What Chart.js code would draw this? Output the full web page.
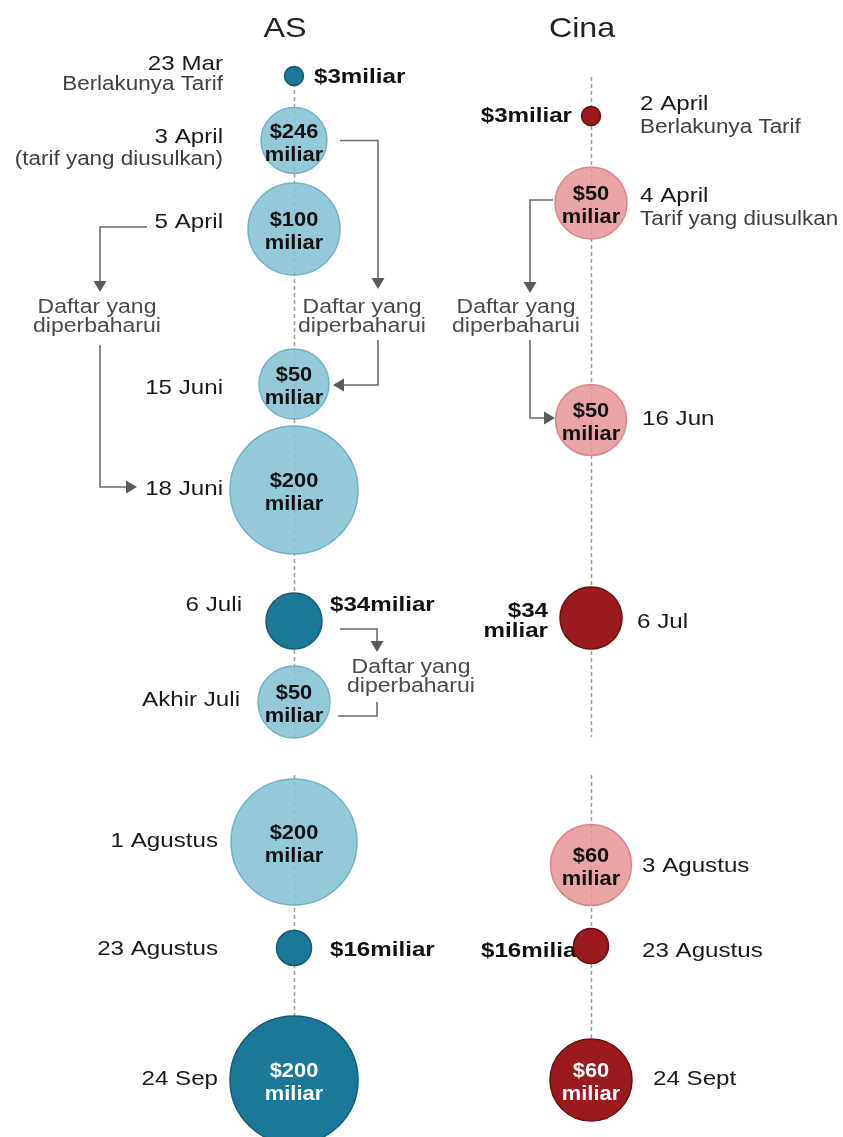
<!DOCTYPE html>
<html>
<head>
<meta charset="utf-8">
<script src="https://cdn.jsdelivr.net/npm/chart.js@4/dist/chart.umd.min.js"></script>
<style>
  html, body { margin: 0; padding: 0; background: #fff; }
  canvas { display: block; }
</style>
</head>
<body>
<canvas id="chart" width="843" height="1137"></canvas>
<script>
// columns
const countries = ["AS", "Cina"];

// AS timeline
const asDates = ["23 Mar", "3 April", "5 April", "15 Juni", "18 Juni", "6 Juli", "Akhir Juli", "1 Agustus", "23 Agustus", "24 Sep"];
const asNotes = ["Berlakunya Tarif", "(tarif yang diusulkan)", "", "", "", "", "", "", "", ""];
const asValues = [3, 246, 100, 50, 200, 34, 50, 200, 16, 200];
const asStatus = ["berlaku", "usulan", "usulan", "usulan", "usulan", "berlaku", "usulan", "usulan", "berlaku", "berlaku"];
const asTimeline = [7.6, 14.05, 22.9, 38.4, 49.0, 62.1, 70.2, 84.2, 94.8, 108.0];
const asRadius = [9.5, 33, 46, 35, 64, 28, 36, 63, 17.5, 64];

// Cina timeline
const cnDates = ["2 April", "4 April", "16 Jun", "6 Jul", "3 Agustus", "23 Agustus", "24 Sept"];
const cnNotes = ["Berlakunya Tarif", "Tarif yang diusulkan", "", "", "", "", ""];
const cnValues = [3, 50, 50, 34, 60, 16, 60];
const cnStatus = ["berlaku", "usulan", "usulan", "berlaku", "usulan", "berlaku", "berlaku"];
const cnTimeline = [11.6, 20.3, 42.0, 61.8, 86.5, 94.6, 108.0];
const cnRadius = [9.5, 36, 35.5, 31, 40.5, 17.5, 41];

// dashed timeline segments
const asSegments = [[7.6, 73.7], [77.5, 101.7]];
const cnSegments = [[7.7, 73.7], [77.5, 104.0]];

const listLabel = ["Daftar yang", "diperbaharui"];

const palette = {
  AS: {
    berlaku: { fill: "#1b7898", border: "#115b75" },
    usulan: { fill: "rgba(129,193,209,0.85)", border: "rgba(105,172,192,0.9)" },
  },
  Cina: {
    berlaku: { fill: "#9a1a1f", border: "#6d0d11" },
    usulan: { fill: "rgba(230,147,151,0.85)", border: "rgba(214,128,134,0.9)" },
  },
};

// label placement (pixel offsets from each bubble)
const asLayout = [
  { val: "right", vx: 20, vy: 7, dx: -71, dy: -6, ny: 14 },
  { val: "inside", dx: -71, dy: 2.5, ny: 24.5 },
  { val: "inside", dx: -71, dy: -1 },
  { val: "inside", dx: -71, dy: 10 },
  { val: "inside", dx: -71, dy: 5 },
  { val: "right", vx: 36, vy: -10, dx: -52, dy: -10 },
  { val: "inside", dx: -54, dy: 4 },
  { val: "inside", dx: -76, dy: 5 },
  { val: "right", vx: 36, vy: 8, dx: -76, dy: 7 },
  { val: "inside", dx: -76, dy: 5 },
];
const cnLayout = [
  { val: "left", vx: -19, vy: 6, dx: 49, dy: -6, ny: 17 },
  { val: "inside", dx: 49, dy: -1, ny: 22 },
  { val: "inside", dx: 51, dy: 5 },
  { val: "left2", vx: -43, vy: -1, dx: 46, dy: 10 },
  { val: "inside", dx: 51, dy: 7 },
  { val: "under", vx: -110, vy: 11, dx: 51, dy: 11 },
  { val: "inside", dx: 62, dy: 5 },
];

const FONT = "'Liberation Sans', Arial, Helvetica, sans-serif";
const STRETCH = 1.15;

function toPoints(col, timeline, radius, values) {
  return values.map((v, i) => ({ x: col, y: timeline[i], r: radius[i], v }));
}

function text(ctx, str, x, y, size, opts = {}) {
  ctx.save();
  ctx.font = `${opts.bold ? "bold " : ""}${size}px ${FONT}`;
  ctx.fillStyle = opts.color || "#1e1e1e";
  ctx.textAlign = opts.align || "left";
  ctx.textBaseline = "alphabetic";
  ctx.translate(x, y);
  ctx.scale(opts.stretch || STRETCH, 1);
  ctx.fillText(str, 0, 0);
  ctx.restore();
}

function polyline(ctx, pts) {
  ctx.save();
  ctx.strokeStyle = "#6b6b6b";
  ctx.lineWidth = 1.6;
  ctx.beginPath();
  pts.forEach(([x, y], i) => (i ? ctx.lineTo(x, y) : ctx.moveTo(x, y)));
  ctx.stroke();
  ctx.restore();
}

function arrowHead(ctx, x, y, dir) {
  const len = 11, half = 6.5;
  ctx.save();
  ctx.fillStyle = "#5a5a5a";
  ctx.beginPath();
  if (dir === "down") { ctx.moveTo(x, y); ctx.lineTo(x - half, y - len); ctx.lineTo(x + half, y - len); }
  if (dir === "right") { ctx.moveTo(x, y); ctx.lineTo(x - len, y - half); ctx.lineTo(x - len, y + half); }
  if (dir === "left") { ctx.moveTo(x, y); ctx.lineTo(x + len, y - half); ctx.lineTo(x + len, y + half); }
  ctx.closePath();
  ctx.fill();
  ctx.restore();
}

const timelinePlugin = {
  id: "timeline",
  beforeDatasetsDraw(chart) {
    const { ctx, scales: { x, y } } = chart;
    const segs = [[0, asSegments], [1, cnSegments]];
    ctx.save();
    ctx.strokeStyle = "#9e9e9e";
    ctx.lineWidth = 1.5;
    ctx.setLineDash([4, 3]);
    segs.forEach(([col, list]) => {
      const px = Math.round(x.getPixelForValue(col)) + 0.5;
      list.forEach(([a, b]) => {
        ctx.beginPath();
        ctx.moveTo(px, y.getPixelForValue(a));
        ctx.lineTo(px, y.getPixelForValue(b));
        ctx.stroke();
      });
    });
    ctx.restore();

    // label partly covered by the bubble
    const cx = x.getPixelForValue(1);
    cnLayout.forEach((l, i) => {
      if (l.val !== "under") return;
      const cy = y.getPixelForValue(cnTimeline[i]);
      text(ctx, `$${cnValues[i]}miliar`, cx + l.vx, cy + l.vy, 21, { bold: true, color: "#111" });
    });
  },
  afterDatasetsDraw(chart) {
    const { ctx, scales: { x, y } } = chart;

    // column titles
    text(ctx, countries[0], x.getPixelForValue(0) - 9, 37, 28, { align: "center", color: "#222" });
    text(ctx, countries[1], x.getPixelForValue(1) - 9, 37, 28, { align: "center", color: "#222" });

    const series = [
      { col: 0, dates: asDates, notes: asNotes, values: asValues, status: asStatus, tl: asTimeline, layout: asLayout },
      { col: 1, dates: cnDates, notes: cnNotes, values: cnValues, status: cnStatus, tl: cnTimeline, layout: cnLayout },
    ];

    series.forEach((s) => {
      const cx = x.getPixelForValue(s.col);
      const dateAlign = s.col === 0 ? "right" : "left";
      s.values.forEach((v, i) => {
        const l = s.layout[i];
        const cy = y.getPixelForValue(s.tl[i]);
        text(ctx, s.dates[i], cx + l.dx, cy + l.dy, 21, { align: dateAlign, color: "#1a1a1a" });
        if (s.notes[i]) text(ctx, s.notes[i], cx + l.dx, cy + l.ny, 19.5, { align: dateAlign, color: "#3f3f3f" });

        if (l.val === "inside") {
          const color = s.status[i] === "berlaku" ? "#fff" : "#111";
          text(ctx, `$${v}`, cx, cy - 3, 21, { bold: true, align: "center", color, stretch: 1.04 });
          text(ctx, "miliar", cx, cy + 20, 21, { bold: true, align: "center", color, stretch: 1.04 });
        } else if (l.val === "right") {
          text(ctx, `$${v}miliar`, cx + l.vx, cy + l.vy, 21, { bold: true, color: "#111" });
        } else if (l.val === "left") {
          text(ctx, `$${v}miliar`, cx + l.vx, cy + l.vy, 21, { bold: true, align: "right", color: "#111" });
        } else if (l.val === "left2") {
          text(ctx, `$${v}`, cx + l.vx, cy + l.vy, 21, { bold: true, align: "right", color: "#111" });
          text(ctx, "miliar", cx + l.vx, cy + l.vy + 20, 21, { bold: true, align: "right", color: "#111" });
        }
      });
    });

    // "Daftar yang diperbaharui" connectors
    const ax = x.getPixelForValue(0);
    const bx = x.getPixelForValue(1);
    const ay = (i) => y.getPixelForValue(asTimeline[i]);
    const by = (i) => y.getPixelForValue(cnTimeline[i]);
    const note = (cx, top) => {
      text(ctx, listLabel[0], cx, top, 20, { align: "center", color: "#4a4a4a" });
      text(ctx, listLabel[1], cx, top + 19, 20, { align: "center", color: "#4a4a4a" });
    };

    // 5 April -> 18 Juni
    polyline(ctx, [[ax - 147, ay(2) - 2], [ax - 194, ay(2) - 2], [ax - 194, 283]]);
    arrowHead(ctx, ax - 194, 292, "down");
    note(ax - 197, 313);
    polyline(ctx, [[ax - 194, 345], [ax - 194, ay(4) - 3], [ax - 166, ay(4) - 3]]);
    arrowHead(ctx, ax - 157, ay(4) - 3, "right");

    // 3 April -> 15 Juni
    polyline(ctx, [[ax + 46, ay(1)], [ax + 84, ay(1)], [ax + 84, 279]]);
    arrowHead(ctx, ax + 84, 289, "down");
    note(ax + 68, 313);
    polyline(ctx, [[ax + 84, 340], [ax + 84, ay(3) + 1], [ax + 48, ay(3) + 1]]);
    arrowHead(ctx, ax + 39, ay(3) + 1, "left");

    // Cina 4 April -> 16 Jun
    polyline(ctx, [[bx - 38, by(1) - 3], [bx - 61, by(1) - 3], [bx - 61, 283]]);
    arrowHead(ctx, bx - 61, 293, "down");
    note(bx - 75, 313);
    polyline(ctx, [[bx - 61, 340], [bx - 61, by(2) - 2], [bx - 45, by(2) - 2]]);
    arrowHead(ctx, bx - 36, by(2) - 2, "right");

    // 6 Juli -> Akhir Juli
    polyline(ctx, [[ax + 46, ay(5) + 8], [ax + 83, ay(5) + 8], [ax + 83, 642]]);
    arrowHead(ctx, ax + 83, 652, "down");
    note(ax + 117, 673);
    polyline(ctx, [[ax + 83, 702], [ax + 83, 716], [ax + 44, 716]]);
  },
};

function pointColors(country, status, key) {
  return status.map((s) => palette[country][s][key]);
}

new Chart(document.getElementById("chart"), {
  type: "bubble",
  data: {
    datasets: [
      {
        label: countries[0],
        data: toPoints(0, asTimeline, asRadius, asValues),
        backgroundColor: pointColors("AS", asStatus, "fill"),
        borderColor: pointColors("AS", asStatus, "border"),
        borderWidth: 1.5,
        clip: false,
      },
      {
        label: countries[1],
        data: toPoints(1, cnTimeline, cnRadius, cnValues),
        backgroundColor: pointColors("Cina", cnStatus, "fill"),
        borderColor: pointColors("Cina", cnStatus, "border"),
        borderWidth: 1.5,
        clip: false,
      },
    ],
  },
  options: {
    responsive: false,
    animation: false,
    events: [],
    layout: { padding: 0, autoPadding: false },
    plugins: { legend: { display: false }, tooltip: { enabled: false } },
    scales: {
      x: { type: "linear", display: false, min: -294 / 297, max: 549 / 297 },
      y: { type: "linear", display: false, min: 0, max: 113.7, reverse: true },
    },
  },
  plugins: [timelinePlugin],
});
</script>
</body>
</html>
